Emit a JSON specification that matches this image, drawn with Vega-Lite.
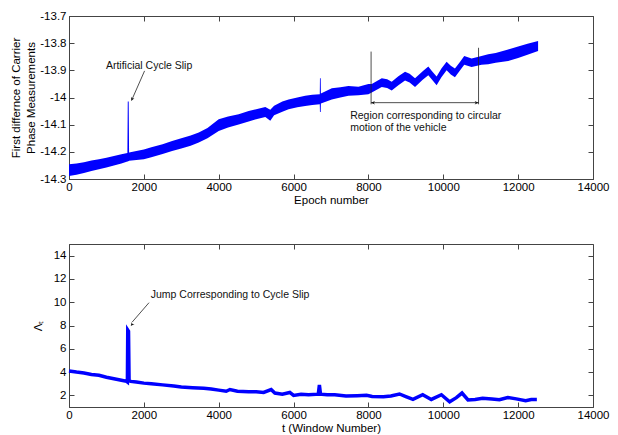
{
  "$schema": "https://vega.github.io/schema/vega-lite/v6.json",
  "padding": {"left": 10, "top": 9, "right": 2, "bottom": 2},
  "spacing": 36,
  "background": "white",
  "datasets": {
    "top": [
      {"epoch": 0, "lo": -14.289, "hi": -14.246},
      {"epoch": 200, "lo": -14.284, "hi": -14.243},
      {"epoch": 400, "lo": -14.278, "hi": -14.238},
      {"epoch": 600, "lo": -14.271, "hi": -14.232},
      {"epoch": 800, "lo": -14.264, "hi": -14.227},
      {"epoch": 1000, "lo": -14.258, "hi": -14.222},
      {"epoch": 1200, "lo": -14.25, "hi": -14.215},
      {"epoch": 1400, "lo": -14.243, "hi": -14.209},
      {"epoch": 1560, "lo": -14.236, "hi": -14.204},
      {"epoch": 1570, "lo": -14.236, "hi": -14.015},
      {"epoch": 1595, "lo": -14.234, "hi": -14.015},
      {"epoch": 1605, "lo": -14.233, "hi": -14.202},
      {"epoch": 1800, "lo": -14.23, "hi": -14.197},
      {"epoch": 2000, "lo": -14.227, "hi": -14.191},
      {"epoch": 2200, "lo": -14.22, "hi": -14.183},
      {"epoch": 2500, "lo": -14.208, "hi": -14.172},
      {"epoch": 2755, "lo": -14.197, "hi": -14.16},
      {"epoch": 3000, "lo": -14.188, "hi": -14.15},
      {"epoch": 3250, "lo": -14.178, "hi": -14.14},
      {"epoch": 3467, "lo": -14.166, "hi": -14.129},
      {"epoch": 3700, "lo": -14.15, "hi": -14.112},
      {"epoch": 4000, "lo": -14.123, "hi": -14.08},
      {"epoch": 4250, "lo": -14.11, "hi": -14.07},
      {"epoch": 4533, "lo": -14.099, "hi": -14.062},
      {"epoch": 4800, "lo": -14.088, "hi": -14.05},
      {"epoch": 5000, "lo": -14.08, "hi": -14.043},
      {"epoch": 5245, "lo": -14.072, "hi": -14.035},
      {"epoch": 5378, "lo": -14.086, "hi": -14.045},
      {"epoch": 5480, "lo": -14.065, "hi": -14.03},
      {"epoch": 5700, "lo": -14.052, "hi": -14.015},
      {"epoch": 5867, "lo": -14.043, "hi": -14.007},
      {"epoch": 6100, "lo": -14.036, "hi": -14.0},
      {"epoch": 6311, "lo": -14.031, "hi": -13.994},
      {"epoch": 6500, "lo": -14.028, "hi": -13.99},
      {"epoch": 6700, "lo": -14.025, "hi": -13.988},
      {"epoch": 6705, "lo": -14.053, "hi": -13.929},
      {"epoch": 6725, "lo": -14.053, "hi": -13.929},
      {"epoch": 6730, "lo": -14.022, "hi": -13.985},
      {"epoch": 7022, "lo": -14.007, "hi": -13.966},
      {"epoch": 7250, "lo": -14.0, "hi": -13.962},
      {"epoch": 7467, "lo": -13.994, "hi": -13.958},
      {"epoch": 7733, "lo": -13.992, "hi": -13.96},
      {"epoch": 8000, "lo": -13.988, "hi": -13.95},
      {"epoch": 8089, "lo": -13.982, "hi": -13.95},
      {"epoch": 8356, "lo": -13.961, "hi": -13.929},
      {"epoch": 8500, "lo": -13.965, "hi": -13.933},
      {"epoch": 8622, "lo": -13.974, "hi": -13.942},
      {"epoch": 8800, "lo": -13.955, "hi": -13.922},
      {"epoch": 8978, "lo": -13.937, "hi": -13.905},
      {"epoch": 9100, "lo": -13.945, "hi": -13.913},
      {"epoch": 9245, "lo": -13.961, "hi": -13.929},
      {"epoch": 9450, "lo": -13.935, "hi": -13.903},
      {"epoch": 9600, "lo": -13.918, "hi": -13.886},
      {"epoch": 9700, "lo": -13.935, "hi": -13.903},
      {"epoch": 9822, "lo": -13.955, "hi": -13.923},
      {"epoch": 9950, "lo": -13.925, "hi": -13.893},
      {"epoch": 10089, "lo": -13.9, "hi": -13.868},
      {"epoch": 10200, "lo": -13.915, "hi": -13.883},
      {"epoch": 10311, "lo": -13.925, "hi": -13.893},
      {"epoch": 10450, "lo": -13.9, "hi": -13.868},
      {"epoch": 10560, "lo": -13.879, "hi": -13.847},
      {"epoch": 10756, "lo": -13.888, "hi": -13.856},
      {"epoch": 11022, "lo": -13.879, "hi": -13.847},
      {"epoch": 11200, "lo": -13.878, "hi": -13.841},
      {"epoch": 11400, "lo": -13.872, "hi": -13.836},
      {"epoch": 11733, "lo": -13.866, "hi": -13.823},
      {"epoch": 12000, "lo": -13.855, "hi": -13.812},
      {"epoch": 12250, "lo": -13.843, "hi": -13.802},
      {"epoch": 12533, "lo": -13.829, "hi": -13.792}
    ],
    "bottom": [
      {"t": 0, "v": 4.1}, {"t": 200, "v": 4.0}, {"t": 400, "v": 3.92}, {"t": 600, "v": 3.8},
      {"t": 800, "v": 3.72}, {"t": 1000, "v": 3.55}, {"t": 1200, "v": 3.42}, {"t": 1400, "v": 3.3},
      {"t": 1540, "v": 3.2}, {"t": 1560, "v": 3.15}, {"t": 1570, "v": 7.6}, {"t": 1590, "v": 7.5},
      {"t": 1605, "v": 3.3}, {"t": 1650, "v": 3.2}, {"t": 1800, "v": 3.15}, {"t": 2000, "v": 3.05},
      {"t": 2200, "v": 3.0}, {"t": 2500, "v": 2.9}, {"t": 2800, "v": 2.8}, {"t": 3000, "v": 2.72},
      {"t": 3300, "v": 2.66}, {"t": 3600, "v": 2.6}, {"t": 3800, "v": 2.55}, {"t": 4000, "v": 2.45},
      {"t": 4200, "v": 2.35}, {"t": 4300, "v": 2.5}, {"t": 4500, "v": 2.35}, {"t": 4800, "v": 2.32},
      {"t": 5000, "v": 2.3}, {"t": 5200, "v": 2.25}, {"t": 5400, "v": 2.5}, {"t": 5500, "v": 2.2},
      {"t": 5700, "v": 2.1}, {"t": 5900, "v": 2.25}, {"t": 6000, "v": 2.0}, {"t": 6200, "v": 2.1},
      {"t": 6400, "v": 2.05}, {"t": 6660, "v": 2.1}, {"t": 6690, "v": 2.9}, {"t": 6720, "v": 2.1},
      {"t": 6900, "v": 2.05}, {"t": 7100, "v": 2.05}, {"t": 7400, "v": 1.95}, {"t": 7700, "v": 1.97},
      {"t": 7950, "v": 2.0}, {"t": 8100, "v": 1.9}, {"t": 8400, "v": 1.88}, {"t": 8600, "v": 1.95},
      {"t": 8830, "v": 2.12}, {"t": 9000, "v": 1.9}, {"t": 9190, "v": 1.65}, {"t": 9450, "v": 2.05},
      {"t": 9680, "v": 1.65}, {"t": 9950, "v": 2.05}, {"t": 10170, "v": 1.45}, {"t": 10350, "v": 1.8},
      {"t": 10500, "v": 2.2}, {"t": 10660, "v": 1.6}, {"t": 10850, "v": 1.65}, {"t": 11050, "v": 1.75},
      {"t": 11300, "v": 1.68}, {"t": 11500, "v": 1.62}, {"t": 11720, "v": 1.82}, {"t": 11950, "v": 1.7},
      {"t": 12200, "v": 1.55}, {"t": 12350, "v": 1.65}, {"t": 12500, "v": 1.65}
    ],
    "topNotes": [
      {"epoch": 987, "value": -13.884, "label": "Artificial Cycle Slip"},
      {"epoch": 7513, "value": -14.068, "label": "Region corresponding to circular"},
      {"epoch": 7513, "value": -14.111, "label": "motion of the vehicle"}
    ],
    "topLines": [
      {"epoch": 2019, "value": -13.902, "epoch2": 1690, "value2": -14.005},
      {"epoch": 8071, "value": -13.831, "epoch2": 8071, "value2": -14.025},
      {"epoch": 10942, "value": -13.817, "epoch2": 10942, "value2": -14.025},
      {"epoch": 8071, "value": -14.019, "epoch2": 10942, "value2": -14.019}
    ],
    "topHeadSlip": [{"epoch": 1662, "value": -14.013}],
    "topHeadLeft": [{"epoch": 8071, "value": -14.019}],
    "topHeadRight": [{"epoch": 10942, "value": -14.019}],
    "bottomNotes": [{"t": 2183, "v": 10.6, "label": "Jump Corresponding to Cycle Slip"}],
    "bottomLines": [{"t": 2137, "v": 9.96, "t2": 1690, "v2": 8.3}],
    "bottomHead": [{"t": 1650, "v": 7.95}]
  },
  "vconcat": [
    {
      "width": 524,
      "height": 163,
      "resolve": {"axis": {"x": "independent", "y": "independent"}},
      "layer": [
        {
          "data": {"name": "top"},
          "mark": {"type": "area", "color": "#0000ff", "opacity": 1},
          "encoding": {
            "x": {"field": "epoch", "type": "quantitative", "scale": {"domain": [0, 14000], "nice": false},
                  "axis": {"orient": "bottom", "values": [0, 2000, 4000, 6000, 8000, 10000, 12000, 14000], "format": "d", "labelFlush": false, "title": "Epoch number", "labelPadding": 7, "titlePadding": 2}},
            "y": {"field": "lo", "type": "quantitative", "scale": {"domain": [-14.3, -13.7], "nice": false, "zero": false},
                  "axis": {"orient": "left", "values": [-14.3, -14.2, -14.1, -14, -13.9, -13.8, -13.7], "labelExpr": "replace(format(datum.value, '.1~f'), '\u2212', '-')", "title": ["First differnce of Carrier", "Phase Measurements"], "titleLineHeight": 15, "labelPadding": 8, "titlePadding": 3}},
            "y2": {"field": "hi"}
          }
        },
        {
          "data": {"name": "top"},
          "mark": {"type": "point", "opacity": 0},
          "encoding": {
            "x": {"field": "epoch", "type": "quantitative", "axis": {"orient": "top", "values": [0, 2000, 4000, 6000, 8000, 10000, 12000, 14000], "labels": false, "title": null, "domain": false}},
            "y": {"field": "lo", "type": "quantitative", "axis": {"orient": "right", "values": [-14.3, -14.2, -14.1, -14, -13.9, -13.8, -13.7], "labels": false, "title": null, "domain": false}}
          }
        },
        {
          "data": {"name": "topLines"},
          "mark": {"type": "rule", "color": "#222", "strokeWidth": 0.8},
          "encoding": {
            "x": {"field": "epoch", "type": "quantitative", "axis": null},
            "y": {"field": "value", "type": "quantitative", "axis": null},
            "x2": {"field": "epoch2"},
            "y2": {"field": "value2"}
          }
        },
        {
          "data": {"name": "topHeadSlip"},
          "mark": {"type": "point", "shape": "M0,0L-1,-0.45L-0.7,0L-1,0.45Z", "filled": true, "color": "#111", "size": 60, "angle": 114, "opacity": 1},
          "encoding": {"x": {"field": "epoch", "type": "quantitative", "axis": null}, "y": {"field": "value", "type": "quantitative", "axis": null}}
        },
        {
          "data": {"name": "topHeadLeft"},
          "mark": {"type": "point", "shape": "M0,0L-1,-0.45L-0.7,0L-1,0.45Z", "filled": true, "color": "#111", "size": 60, "angle": 180, "opacity": 1},
          "encoding": {"x": {"field": "epoch", "type": "quantitative", "axis": null}, "y": {"field": "value", "type": "quantitative", "axis": null}}
        },
        {
          "data": {"name": "topHeadRight"},
          "mark": {"type": "point", "shape": "M0,0L-1,-0.45L-0.7,0L-1,0.45Z", "filled": true, "color": "#111", "size": 60, "angle": 0, "opacity": 1},
          "encoding": {"x": {"field": "epoch", "type": "quantitative", "axis": null}, "y": {"field": "value", "type": "quantitative", "axis": null}}
        },
        {
          "data": {"name": "topNotes"},
          "mark": {"type": "text", "align": "left", "baseline": "middle", "font": "Liberation Sans", "fontSize": 10.5, "color": "#111"},
          "encoding": {
            "x": {"field": "epoch", "type": "quantitative", "axis": null},
            "y": {"field": "value", "type": "quantitative", "axis": null},
            "text": {"field": "label"}
          }
        }
      ]
    },
    {
      "width": 524,
      "height": 163,
      "resolve": {"axis": {"x": "independent", "y": "independent"}},
      "layer": [
        {
          "data": {"name": "bottom"},
          "mark": {"type": "line", "color": "#0000ff", "strokeWidth": 3.5},
          "encoding": {
            "x": {"field": "t", "type": "quantitative", "scale": {"domain": [0, 14000], "nice": false},
                  "axis": {"orient": "bottom", "values": [0, 2000, 4000, 6000, 8000, 10000, 12000, 14000], "format": "d", "labelFlush": false, "title": "t (Window Number)", "labelPadding": 7, "titlePadding": 2}},
            "y": {"field": "v", "type": "quantitative", "scale": {"domain": [1, 15], "nice": false, "zero": false},
                  "axis": {"orient": "left", "values": [2, 4, 6, 8, 10, 12, 14], "format": "d", "title": "Λₜ", "labelPadding": 8, "titlePadding": 10}}
          }
        },
        {
          "data": {"name": "bottom"},
          "mark": {"type": "point", "opacity": 0},
          "encoding": {
            "x": {"field": "t", "type": "quantitative", "axis": {"orient": "top", "values": [0, 2000, 4000, 6000, 8000, 10000, 12000, 14000], "labels": false, "title": null, "domain": false}},
            "y": {"field": "v", "type": "quantitative", "axis": {"orient": "right", "values": [2, 4, 6, 8, 10, 12, 14], "labels": false, "title": null, "domain": false}}
          }
        },
        {
          "data": {"name": "bottomLines"},
          "mark": {"type": "rule", "color": "#222", "strokeWidth": 0.8},
          "encoding": {
            "x": {"field": "t", "type": "quantitative", "axis": null},
            "y": {"field": "v", "type": "quantitative", "axis": null},
            "x2": {"field": "t2"},
            "y2": {"field": "v2"}
          }
        },
        {
          "data": {"name": "bottomHead"},
          "mark": {"type": "point", "shape": "M0,0L-1,-0.45L-0.7,0L-1,0.45Z", "filled": true, "color": "#111", "size": 60, "angle": 128, "opacity": 1},
          "encoding": {"x": {"field": "t", "type": "quantitative", "axis": null}, "y": {"field": "v", "type": "quantitative", "axis": null}}
        },
        {
          "data": {"name": "bottomNotes"},
          "mark": {"type": "text", "align": "left", "baseline": "middle", "font": "Liberation Sans", "fontSize": 10.5, "color": "#111"},
          "encoding": {
            "x": {"field": "t", "type": "quantitative", "axis": null},
            "y": {"field": "v", "type": "quantitative", "axis": null},
            "text": {"field": "label"}
          }
        }
      ]
    }
  ],
  "config": {
    "view": {"stroke": "#444", "strokeWidth": 1},
    "axis": {
      "grid": false,
      "labelFont": "Liberation Sans",
      "titleFont": "Liberation Sans",
      "labelFontSize": 11.5,
      "titleFontSize": 11.5,
      "titleFontWeight": "normal",
      "labelColor": "#000",
      "titleColor": "#000",
      "domainColor": "#444",
      "tickColor": "#444",
      "tickSize": -5,
      "labelOverlap": false
    }
  }
}
